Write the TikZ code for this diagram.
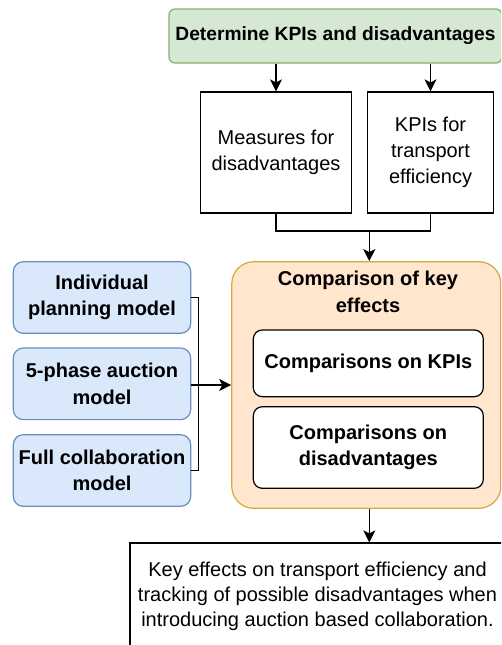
\documentclass[tikz,border=0pt]{standalone}
\usepackage{fontspec}
\setmainfont{Liberation Sans}
\usetikzlibrary{arrows.meta}
\definecolor{gfill}{HTML}{D5E8D4}
\definecolor{gdraw}{HTML}{82B366}
\definecolor{bfill}{HTML}{DAE8FC}
\definecolor{bdraw}{HTML}{6C8EBF}
\definecolor{ofill}{HTML}{FFE6CC}
\definecolor{odraw}{HTML}{D6A840}
\begin{document}
\begin{tikzpicture}[x=1pt,y=-1pt,line width=1.2pt,
  base/.style={font=\fontsize{20}{26}\selectfont,align=center,inner sep=0pt},
  plain/.style={base,draw=black,fill=white},
  greenbox/.style={base,draw=gdraw,fill=gfill,rounded corners=6pt,font=\fontsize{19.2}{26}\selectfont\bfseries},
  bluebox/.style={base,draw=bdraw,fill=bfill,rounded corners=10pt,minimum width=177.4pt,minimum height=71.6pt,font=\fontsize{20}{26.5}\selectfont\bfseries},
  orangebox/.style={base,draw=odraw,fill=ofill,rounded corners=22pt},
  innerbox/.style={base,draw=black,fill=white,rounded corners=9pt,minimum width=230pt,font=\fontsize{20}{26}\selectfont\bfseries},
  arr/.style={-{Stealth[length=12pt,width=12pt,inset=3pt]}}]
\clip (0,0) rectangle (501,645);
\fill[white] (0,0) rectangle (501,645);
% top
\node[greenbox,minimum width=333pt,minimum height=54pt] (det) at (335.5,36) {Determine KPIs and disadvantages};
\node[plain,minimum width=151.7pt,minimum height=121pt] (meas) at (276,152.5) {Measures for\\disadvantages};
\node[plain,minimum width=126.6pt,minimum height=121pt] (kpi) at (430.5,152.5) {KPIs for\\transport\\efficiency};
\draw[arr] (det.south -| meas.north) -- (meas.north);
\draw[arr] (det.south -| kpi.north) -- (kpi.north);
\coordinate (j) at (369.3,231);
% orange
\node[orangebox,minimum width=269pt,minimum height=246.6pt] (cmp) at (366.3,385) {};
\node[base,font=\fontsize{20}{27}\selectfont\bfseries] (cmpt) at (368,291.5) {Comparison of key\\effects};
\node[innerbox,minimum height=66.7pt] (ck) at (368.3,363.3) {Comparisons on KPIs};
\node[innerbox,minimum height=81.6pt] (cd) at (368.3,447.5) {Comparisons on\\disadvantages};
\draw (meas.south) |- (j) -| (kpi.south);
\draw[arr] (j) -- (cmp.north -| j);
% blue
\node[bluebox] (ind) at (102,297.5) {Individual\\planning model};
\node[bluebox] (auc) at (102,383.8) {5-phase auction\\model};
\node[bluebox] (full) at (102,470.5) {Full collaboration\\model};
\coordinate (b) at (198.3,385);
\draw (ind.east) -| (b) |- (full.east);
\draw[arr] (auc.east |- b) -- (cmp.west |- b);
% result
\node[plain,minimum width=375pt,minimum height=107.4pt,font=\fontsize{20}{25}\selectfont] (res) at (317.5,596.7) {Key effects on transport efficiency and\\tracking of possible disadvantages when\\introducing auction based collaboration.};
\draw[arr] (cmp.south -| j) -- (res.north -| j);
\end{tikzpicture}
\end{document}
